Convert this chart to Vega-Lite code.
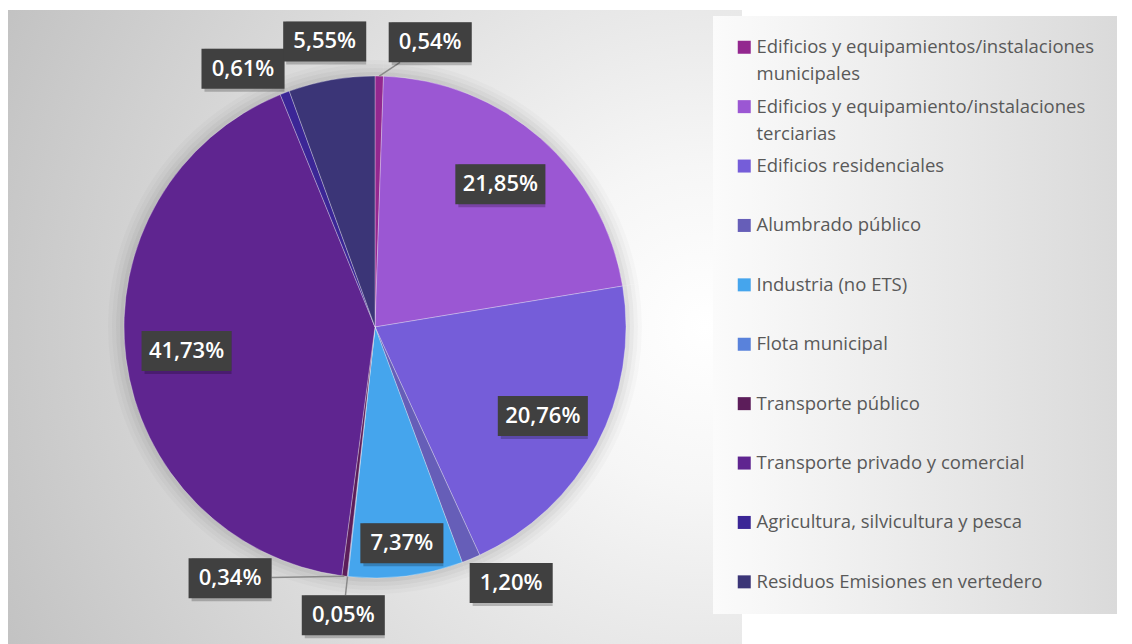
{
  "$schema": "https://vega.github.io/schema/vega-lite/v6.json",
  "width": 734,
  "height": 634,
  "padding": {"left": 8, "top": 10, "right": 390, "bottom": 0},
  "autosize": {"type": "none"},
  "background": "#ffffff",
  "config": {
    "view": {
      "stroke": null,
      "fill": {"gradient": "radial", "x1": 0.95, "y1": 0.5, "r1": 0, "x2": 0.95, "y2": 0.5, "r2": 1.1,
        "stops": [{"offset": 0, "color": "#ffffff"}, {"offset": 0.2, "color": "#f6f6f6"}, {"offset": 1, "color": "#bfbfbf"}]}
    }
  },
  "data": {
    "values": [
      {"categoria": "Edificios y equipamientos/instalaciones municipales", "valor": 0.54, "orden": 1},
      {"categoria": "Edificios y equipamiento/instalaciones terciarias", "valor": 21.85, "orden": 2},
      {"categoria": "Edificios residenciales", "valor": 20.76, "orden": 3},
      {"categoria": "Alumbrado público", "valor": 1.20, "orden": 4},
      {"categoria": "Industria (no ETS)", "valor": 7.37, "orden": 5},
      {"categoria": "Flota municipal", "valor": 0.05, "orden": 6},
      {"categoria": "Transporte público", "valor": 0.34, "orden": 7},
      {"categoria": "Transporte privado y comercial", "valor": 41.73, "orden": 8},
      {"categoria": "Agricultura, silvicultura y pesca", "valor": 0.61, "orden": 9},
      {"categoria": "Residuos Emisiones en vertedero", "valor": 5.55, "orden": 10}
    ]
  },
  "transform": [
    {"window": [{"op": "sum", "field": "valor", "as": "acum"}], "sort": [{"field": "orden"}], "frame": [null, 0]},
    {"calculate": "(datum.acum - datum.valor/2)/100*2*PI", "as": "medio"},
    {"calculate": "datum.orden===1 ? 10 : datum.orden===4 ? -5.5 : datum.orden===7 ? 23 : datum.orden===9 ? -6 : 0", "as": "ajuste"},
    {"calculate": "datum.medio + datum.ajuste*PI/180", "as": "ang"},
    {"calculate": "datum.valor >= 15 ? 190 : datum.valor >= 7 ? 218 : 290", "as": "rad"},
    {"calculate": "datum.rad*sin(datum.ang)", "as": "lx"},
    {"calculate": "datum.rad*cos(datum.ang)", "as": "ly"},
    {"calculate": "replace(format(datum.valor,'.2f'),'.',',') + '%'", "as": "etiqueta"},
    {"calculate": "length(datum.etiqueta) > 5 ? 45 : 41.5", "as": "mw"},
    {"calculate": "datum.lx - datum.mw", "as": "bx1"},
    {"calculate": "datum.lx + datum.mw", "as": "bx2"},
    {"calculate": "datum.ly - 20", "as": "by1"},
    {"calculate": "datum.ly + 20", "as": "by2"},
    {"calculate": "251*sin(datum.medio)", "as": "px"},
    {"calculate": "251*cos(datum.medio)", "as": "py"},
    {"calculate": "min(abs(datum.mw/(datum.px-datum.lx+1e-9)), abs(20/(datum.py-datum.ly+1e-9)))", "as": "t"},
    {"calculate": "datum.lx + datum.t*(datum.px-datum.lx)", "as": "ex"},
    {"calculate": "datum.ly + datum.t*(datum.py-datum.ly)", "as": "ey"}
  ],
  "layer": [
    {
      "mark": {"type": "arc", "outerRadius": 267, "color": "#000000", "opacity": 0.02, "stroke": null},
      "encoding": {"theta": {"field": "valor", "type": "quantitative", "stack": true}, "order": {"field": "orden", "type": "quantitative"}}
    },
    {
      "mark": {"type": "arc", "outerRadius": 263, "color": "#000000", "opacity": 0.025, "stroke": null},
      "encoding": {"theta": {"field": "valor", "type": "quantitative", "stack": true}, "order": {"field": "orden", "type": "quantitative"}}
    },
    {
      "mark": {"type": "arc", "outerRadius": 259, "color": "#000000", "opacity": 0.03, "stroke": null},
      "encoding": {"theta": {"field": "valor", "type": "quantitative", "stack": true}, "order": {"field": "orden", "type": "quantitative"}}
    },
    {
      "mark": {"type": "arc", "outerRadius": 255, "color": "#000000", "opacity": 0.04, "stroke": null},
      "encoding": {"theta": {"field": "valor", "type": "quantitative", "stack": true}, "order": {"field": "orden", "type": "quantitative"}}
    },
    {
      "mark": {"type": "arc", "outerRadius": 251, "stroke": "#ffffff", "strokeWidth": 0.5, "strokeOpacity": 0.6},
      "encoding": {
        "theta": {"field": "valor", "type": "quantitative", "stack": true},
        "order": {"field": "orden", "type": "quantitative"},
        "color": {
          "field": "categoria",
          "type": "nominal",
          "scale": {
            "domain": [
              "Edificios y equipamientos/instalaciones municipales",
              "Edificios y equipamiento/instalaciones terciarias",
              "Edificios residenciales",
              "Alumbrado público",
              "Industria (no ETS)",
              "Flota municipal",
              "Transporte público",
              "Transporte privado y comercial",
              "Agricultura, silvicultura y pesca",
              "Residuos Emisiones en vertedero"
            ],
            "range": ["#93278F", "#9B57D3", "#755DD9", "#665EB8", "#45A5ED", "#5982DB", "#5C1D5A", "#5F2590", "#3B2696", "#3B3577"]
          },
          "legend": {
            "orient": "none",
            "legendX": 705,
            "legendY": 6,
            "direction": "vertical",
            "title": null,
            "symbolType": "square",
            "symbolSize": 169,
            "symbolStrokeWidth": 0,
            "labelFont": "Open Sans",
            "labelFontSize": 18.5,
            "labelColor": "#595959",
            "labelLimit": 450,
            "labelOffset": 3,
            "rowPadding": 13.4,
            "gridAlign": "all",
            "padding": 22,
            "labelExpr": "length(datum.label) > 40 ? split(replace(datum.label, regexp(' (\\\\S+)$'), '|$1'), '|') : datum.label",
            "encoding": {
              "legend": {
                "fill": {"value": {"gradient": "linear", "x1": 0, "y1": 0, "x2": 1, "y2": 0,
                  "stops": [{"offset": 0, "color": "#fbfbfb"}, {"offset": 1, "color": "#dadada"}]}}
              },
              "labels": {
                "lineHeight": {"value": 27}
              }
            }
          }
        }
      }
    },
    {
      "transform": [{"filter": "datum.valor < 0.6"}],
      "mark": {"type": "rule", "color": "#8a8a8a", "strokeWidth": 1.5},
      "encoding": {
        "x": {"field": "px", "type": "quantitative", "scale": {"domain": [-367, 367], "nice": false, "zero": false}, "axis": null},
        "y": {"field": "py", "type": "quantitative", "scale": {"domain": [-317, 317], "nice": false, "zero": false}, "axis": null},
        "x2": {"field": "ex"},
        "y2": {"field": "ey"}
      }
    },
    {
      "mark": {"type": "rect", "color": "#000000", "opacity": 0.22, "xOffset": 3, "yOffset": 3},
      "encoding": {
        "x": {"field": "bx1", "type": "quantitative", "scale": {"domain": [-367, 367], "nice": false, "zero": false}, "axis": null},
        "x2": {"field": "bx2"},
        "y": {"field": "by1", "type": "quantitative", "scale": {"domain": [-317, 317], "nice": false, "zero": false}, "axis": null},
        "y2": {"field": "by2"}
      }
    },
    {
      "mark": {"type": "rect", "color": "#404040"},
      "encoding": {
        "x": {"field": "bx1", "type": "quantitative", "scale": {"domain": [-367, 367], "nice": false, "zero": false}, "axis": null},
        "x2": {"field": "bx2"},
        "y": {"field": "by1", "type": "quantitative", "scale": {"domain": [-317, 317], "nice": false, "zero": false}, "axis": null},
        "y2": {"field": "by2"}
      }
    },
    {
      "mark": {"type": "text", "color": "#ffffff", "font": "Open Sans", "fontWeight": 600, "fontSize": 22, "align": "center", "baseline": "middle"},
      "encoding": {
        "x": {"field": "lx", "type": "quantitative", "scale": {"domain": [-367, 367], "nice": false, "zero": false}, "axis": null},
        "y": {"field": "ly", "type": "quantitative", "scale": {"domain": [-317, 317], "nice": false, "zero": false}, "axis": null},
        "text": {"field": "etiqueta"}
      }
    }
  ]
}
